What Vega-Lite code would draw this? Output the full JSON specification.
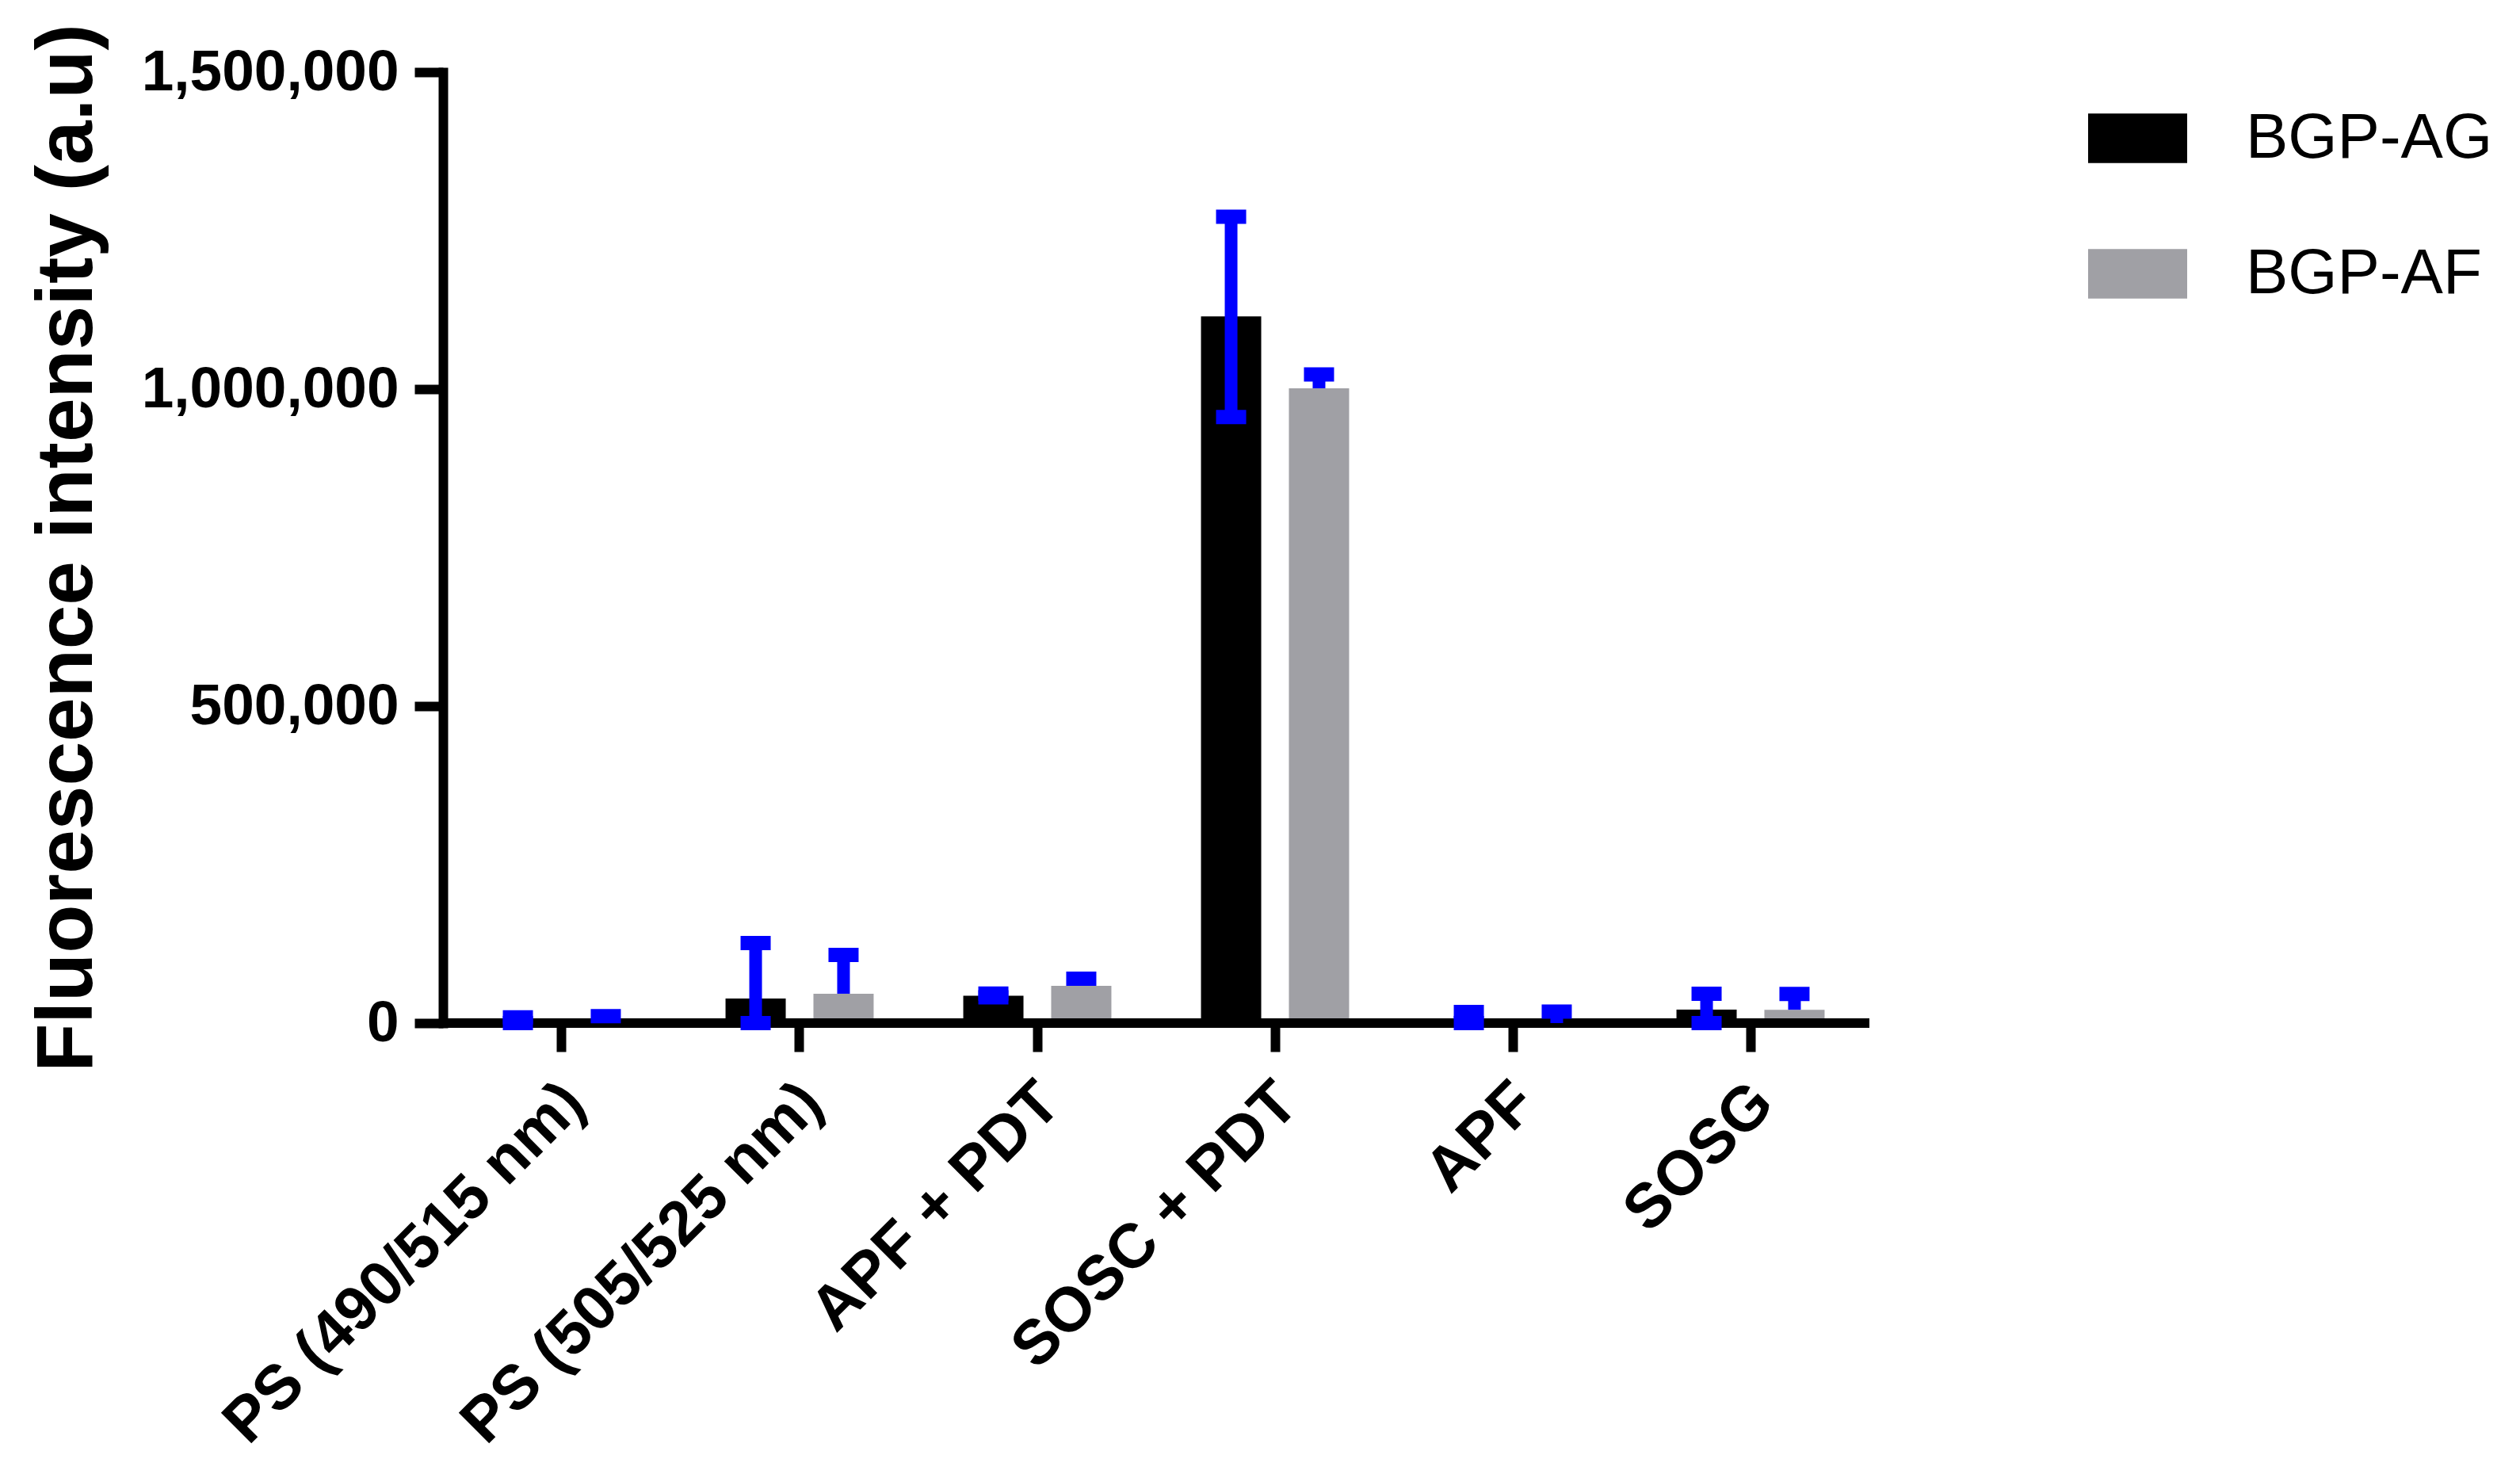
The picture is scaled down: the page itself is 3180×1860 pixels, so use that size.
{
  "$schema": "https://vega.github.io/schema/vega-lite/v6.json",
  "autosize": {"type": "none"},
  "padding": {"left": 559, "top": 91, "right": 821, "bottom": 569},
  "width": 1800,
  "height": 1200,
  "background": "white",
  "config": {"view": {"stroke": null}, "font": "Liberation Sans"},
  "data": {
    "values": [
      {"condition": "PS (490/515 nm)", "group": "BGP-AG", "mean": 0, "lo": 0, "hi": 9000},
      {"condition": "PS (490/515 nm)", "group": "BGP-AF", "mean": 0, "lo": 0, "hi": 11000},
      {"condition": "PS (505/525 nm)", "group": "BGP-AG", "mean": 38800, "lo": 0, "hi": 126400},
      {"condition": "PS (505/525 nm)", "group": "BGP-AF", "mean": 46300, "lo": 46300, "hi": 107600},
      {"condition": "APF + PDT", "group": "BGP-AG", "mean": 43000, "lo": 40500, "hi": 46500},
      {"condition": "APF + PDT", "group": "BGP-AF", "mean": 58800, "lo": 58800, "hi": 70000},
      {"condition": "SOSC + PDT", "group": "BGP-AG", "mean": 1114700, "lo": 956000, "hi": 1272000},
      {"condition": "SOSC + PDT", "group": "BGP-AF", "mean": 1001300, "lo": 1001300, "hi": 1023000},
      {"condition": "APF", "group": "BGP-AG", "mean": 0, "lo": 0, "hi": 17500},
      {"condition": "APF", "group": "BGP-AF", "mean": 0, "lo": 0, "hi": 18000},
      {"condition": "SOSG", "group": "BGP-AG", "mean": 21300, "lo": 0, "hi": 46300},
      {"condition": "SOSG", "group": "BGP-AF", "mean": 21000, "lo": 21000, "hi": 46000}
    ]
  },
  "layer": [
    {
      "mark": {"type": "bar"},
      "encoding": {
        "x": {
          "field": "condition",
          "type": "nominal",
          "sort": ["PS (490/515 nm)", "PS (505/525 nm)", "APF + PDT", "SOSC + PDT", "APF", "SOSG"],
          "scale": {"paddingInner": 0.377, "paddingOuter": 0.1885},
          "axis": {
            "title": null,
            "domain": false,
            "labelAngle": -45,
            "labelAlign": "right",
            "labelBaseline": "middle",
            "labelFont": "Liberation Sans",
            "labelFontWeight": "bold",
            "labelFontSize": 79,
            "labelColor": "black",
            "labelPadding": 52,
            "labelOffset": 16,
            "labelLimit": 0,
            "tickSize": 36,
            "tickWidth": 12,
            "tickColor": "black"
          }
        },
        "xOffset": {
          "field": "group",
          "type": "nominal",
          "sort": ["BGP-AG", "BGP-AF"],
          "scale": {"paddingInner": 0.315, "paddingOuter": 0}
        },
        "y": {
          "field": "mean",
          "type": "quantitative",
          "scale": {"domain": [0, 1500000], "nice": false, "zero": true},
          "axis": {
            "values": [0, 500000, 1000000, 1500000],
            "format": ",.0f",
            "grid": false,
            "domainColor": "black",
            "domainWidth": 12,
            "domainCap": "square",
            "tickColor": "black",
            "tickSize": 36,
            "tickWidth": 12,
            "labelFont": "Liberation Sans",
            "labelFontWeight": "bold",
            "labelFontSize": 73,
            "labelColor": "black",
            "labelPadding": 20,
            "labelLimit": 0,
            "title": "Fluorescence intensity (a.u)",
            "titleFont": "Liberation Sans",
            "titleFontWeight": "bold",
            "titleFontSize": 100,
            "titleColor": "black",
            "titleAngle": -90,
            "titleAlign": "center",
            "titleBaseline": "alphabetic",
            "titleX": -444,
            "titleY": 600,
            "titleLimit": 0
          }
        },
        "color": {
          "field": "group",
          "type": "nominal",
          "sort": ["BGP-AG", "BGP-AF"],
          "scale": {"domain": ["BGP-AG", "BGP-AF"], "range": ["#000000", "#A0A0A5"]},
          "legend": {
            "title": null,
            "orient": "none",
            "legendX": 2076,
            "legendY": 21,
            "padding": 0,
            "symbolType": "M-1,-0.5H1V0.5H-1Z",
            "symbolSize": 15625,
            "symbolStrokeWidth": 0,
            "symbolOpacity": 1,
            "rowPadding": 68,
            "labelOffset": 74,
            "labelFont": "Liberation Sans",
            "labelFontSize": 80,
            "labelColor": "black",
            "labelLimit": 0
          }
        }
      }
    },
    {
      "mark": {"type": "rule", "color": "black", "strokeWidth": 12},
      "encoding": {"y": {"datum": 0, "type": "quantitative"}}
    },
    {
      "mark": {"type": "rule", "color": "#0000FF", "strokeWidth": 16},
      "encoding": {
        "x": {"field": "condition", "type": "nominal", "sort": ["PS (490/515 nm)", "PS (505/525 nm)", "APF + PDT", "SOSC + PDT", "APF", "SOSG"]},
        "xOffset": {"field": "group", "type": "nominal", "sort": ["BGP-AG", "BGP-AF"]},
        "y": {"field": "lo", "type": "quantitative"},
        "y2": {"field": "hi"}
      }
    },
    {
      "mark": {"type": "tick", "color": "#0000FF", "size": 38, "thickness": 18, "opacity": 1},
      "encoding": {
        "x": {"field": "condition", "type": "nominal", "sort": ["PS (490/515 nm)", "PS (505/525 nm)", "APF + PDT", "SOSC + PDT", "APF", "SOSG"]},
        "xOffset": {"field": "group", "type": "nominal", "sort": ["BGP-AG", "BGP-AF"]},
        "y": {"field": "hi", "type": "quantitative"}
      }
    },
    {
      "transform": [{"filter": "datum.group === 'BGP-AG'"}],
      "mark": {"type": "tick", "color": "#0000FF", "size": 38, "thickness": 18, "opacity": 1},
      "encoding": {
        "x": {"field": "condition", "type": "nominal", "sort": ["PS (490/515 nm)", "PS (505/525 nm)", "APF + PDT", "SOSC + PDT", "APF", "SOSG"]},
        "xOffset": {"field": "group", "type": "nominal", "sort": ["BGP-AG", "BGP-AF"]},
        "y": {"field": "lo", "type": "quantitative"}
      }
    }
  ]
}
